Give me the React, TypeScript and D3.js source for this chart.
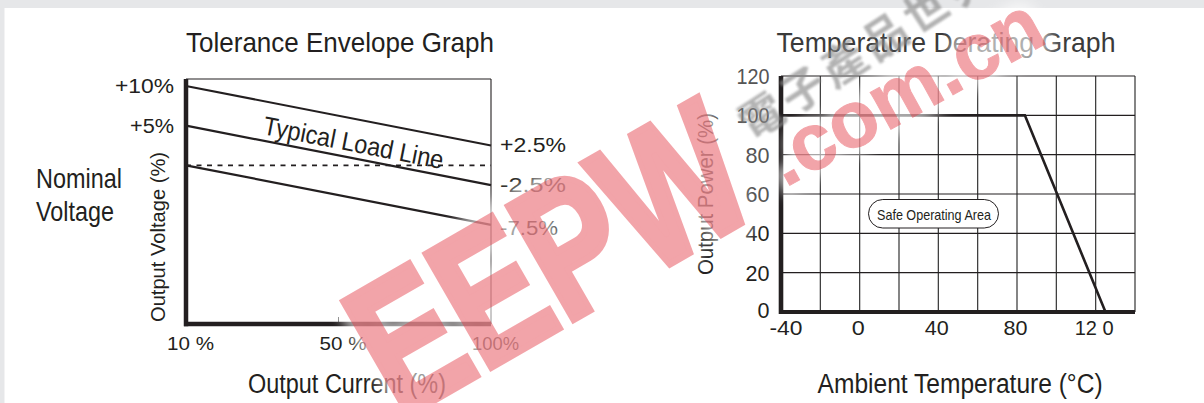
import React from "react";
import * as d3 from "d3";

// ---------- Data ----------
// Tolerance envelope (left chart)
const envCategories = ["10 %", "50 %", "100%"];
const envStartValues = [10, 5, 0]; // % at 10% load
const envEndValues = [2.5, -2.5, -7.5]; // % at 100% load
const envLeftLabels = ["+10%", "+5%"];
const envLeftLabelValues = [10, 5];
const envRightLabels = ["+2.5%", "-2.5%", "-7.5%"];
const nominalValue = 0;

// Temperature derating (right chart)
const tempTicks = [-40, 0, 40, 80, 120];
const tempTickLabels = ["-40", "0", "40", "80", "12 0"];
const tempGrid = [-40, -20, 0, 20, 40, 60, 80, 100, 120, 140];
const powerTicks = [0, 20, 40, 60, 80, 100, 120];
const deratingTemps = [-40, 84, 125];
const deratingPower = [100, 100, 0];

const INK = "#231f20";
const FONT = "'Liberation Sans', Arial, sans-serif";

type TP = {
  x: number;
  y: number;
  size: number;
  len?: number;
  anchor?: "start" | "middle" | "end";
  rotate?: number;
  fill?: string;
  children: React.ReactNode;
};
const Txt = ({ x, y, size, len, anchor = "start", rotate, fill = INK, children }: TP) => (
  <text
    x={rotate === undefined ? x : 0}
    y={rotate === undefined ? y : 0}
    transform={rotate === undefined ? undefined : `translate(${x},${y}) rotate(${rotate})`}
    fontSize={size}
    fontFamily={FONT}
    textAnchor={anchor}
    fill={fill}
    textLength={len}
    lengthAdjust={len ? "spacingAndGlyphs" : undefined}
  >
    {children}
  </text>
);

const WM_EEPW = "translate(400,420) rotate(-30)";
const WM_COM = "translate(785,188) rotate(-29)";
const WM_PINK = "rgb(228,55,66)";

export default function App() {
  // left chart scales
  const xL = d3.scalePoint<string>().domain(envCategories).range([186, 491]);
  const yL = d3.scaleLinear().domain([-20, 10.88]).range([324, 79]);
  const x0 = xL(envCategories[0])!;
  const x1 = xL(envCategories[envCategories.length - 1])!;

  // right chart scales
  const xR = d3.scaleLinear().domain([-40, 140]).range([781, 1135]);
  const yR = d3.scaleLinear().domain([0, 120]).range([312, 76]);
  const derating = d3
    .line<number>()
    .x((d) => xR(d))
    .y((_, i) => yR(deratingPower[i]))(deratingTemps);

  const rightLabelY = envEndValues.map((v) => yL(v));

  return (
    <div style={{ position: "fixed", left: 0, top: 0 }}>
      <svg width={1204} height={403} viewBox="0 0 1204 403">
        <defs>
          <filter id="blur" x="-20%" y="-20%" width="140%" height="140%">
            <feGaussianBlur stdDeviation="6" />
          </filter>
          <filter id="blur2" x="-20%" y="-20%" width="140%" height="140%">
            <feGaussianBlur stdDeviation="1.3" />
          </filter>
        </defs>
        <rect x={0} y={0} width={1204} height={403} fill="#e6e7e9" />
        <rect x={4.5} y={8} width={1200} height={395} fill="#ffffff" />

        {/* ---------- Left chart: Tolerance Envelope ---------- */}
        <Txt x={186} y={52} size={28} len={308}>Tolerance Envelope Graph</Txt>
        {/* frame */}
        <line x1={x0} x2={x1} y1={yL(10.88)} y2={yL(10.88)} stroke={INK} strokeWidth={1.1} />
        <line x1={x1} x2={x1} y1={yL(10.88)} y2={yL(-20)} stroke={INK} strokeWidth={1.1} />
        <line x1={xL("50 %")!} x2={xL("50 %")!} y1={yL(-20) - 7} y2={yL(-20)} stroke="#777" strokeWidth={1} />
        {/* nominal dashed */}
        <line
          x1={x0}
          x2={x1}
          y1={yL(nominalValue)}
          y2={yL(nominalValue)}
          stroke={INK}
          strokeWidth={1.8}
          strokeDasharray="5,5.5"
        />
        {/* envelope lines */}
        {envStartValues.map((s, i) => (
          <line
            key={i}
            x1={x0}
            x2={x1}
            y1={yL(s)}
            y2={yL(envEndValues[i])}
            stroke={INK}
            strokeWidth={2.2}
          />
        ))}
        {/* axes */}
        <line x1={x0} x2={x0} y1={yL(10.88)} y2={yL(-20) + 2.2} stroke={INK} strokeWidth={4.5} />
        <line x1={x0 - 2} x2={x1} y1={yL(-20)} y2={yL(-20)} stroke={INK} strokeWidth={4.5} />

        {envLeftLabels.map((l, i) => (
          <Txt key={l} x={174} y={yL(envLeftLabelValues[i]) + 7} size={20} len={i === 0 ? 59 : 44} anchor="end">
            {l}
          </Txt>
        ))}
        {envRightLabels.map((l, i) => (
          <Txt key={l} x={500} y={rightLabelY[i] + 7 + (i === 2 ? 3 : 0)} size={20} len={i === 2 ? 58 : 66}>
            {l}
          </Txt>
        ))}
        <Txt x={262} y={134} size={26} len={183} rotate={11.07}>Typical Load Line</Txt>
        <Txt x={36} y={188} size={28} len={86}>Nominal</Txt>
        <Txt x={36} y={221} size={28} len={78}>Voltage</Txt>
        <Txt x={165} y={237} size={21} len={170} anchor="middle" rotate={-90}>Output Voltage (%)</Txt>
        {envCategories.map((c) => (
          <Txt key={c} x={xL(c)! + 4.5} y={350} size={19} len={47} anchor="middle">
            {c}
          </Txt>
        ))}
        <Txt x={248} y={393} size={27} len={198}>Output Current (%)</Txt>

        {/* ---------- Right chart: Temperature Derating ---------- */}
        <Txt x={776.5} y={52} size={28} len={339} fill="#3a3a3a">Temperature Derating Graph</Txt>
        {tempGrid.slice(1).map((t) => (
          <line key={"v" + t} x1={xR(t)} x2={xR(t)} y1={yR(120)} y2={yR(0)} stroke="#333" strokeWidth={1.2} />
        ))}
        {powerTicks.slice(1).map((p) => (
          <line key={"h" + p} x1={xR(-40)} x2={xR(140)} y1={yR(p)} y2={yR(p)} stroke={INK} strokeWidth={1.2} />
        ))}
        <path d={derating || ""} fill="none" stroke={INK} strokeWidth={2.6} strokeLinejoin="miter" />
        <line x1={xR(-40)} x2={xR(-40)} y1={yR(120)} y2={yR(0) + 2} stroke={INK} strokeWidth={4.6} />
        <line x1={xR(-40) - 2} x2={xR(140)} y1={yR(0)} y2={yR(0)} stroke={INK} strokeWidth={4} />

        {powerTicks.map((p) => (
          <Txt key={"pl" + p} x={769.5} y={yR(p) + 8 - (p === 0 ? 2 : 0)} size={22} len={p >= 100 ? 33 : p === 0 ? 12 : 24} anchor="end" fill={p >= 60 ? "#555" : INK}>
            {String(p)}
          </Txt>
        ))}
        {tempTicks.map((t, i) => (
          <Txt key={"tl" + t} x={xR(t) + (i === 0 ? 5 : -1.5)} y={335} size={21} len={i === 0 ? 33 : i === 1 ? 13 : i === 4 ? 39 : 24} anchor="middle">
            {tempTickLabels[i]}
          </Txt>
        ))}
        <Txt x={817.6} y={393} size={27} len={285}>Ambient Temperature (°C)</Txt>
        <Txt x={713} y={194} size={22} len={162} anchor="middle" rotate={-90}>Output Power (%)</Txt>

        <rect x={868.5} y={199.5} width={130} height={28.5} rx={14.25} fill="#fff" stroke={INK} strokeWidth={1} />
        <Txt x={934} y={219.5} size={14.5} len={114} anchor="middle">Safe Operating Area</Txt>

        {/* ---------- Watermark ---------- */}
        <g filter="url(#blur)" opacity={0.6}>
          <text
            transform={WM_EEPW}
            fontSize={190}
            fontFamily={FONT}
            fontWeight={700}
            textLength={420}
            lengthAdjust="spacingAndGlyphs"
            fill="none"
            stroke="#fff"
            strokeWidth={26}
          >
            EEPW
          </text>
          <text
            transform={WM_COM}
            fontSize={80}
            fontFamily={FONT}
            fontWeight={700}
            fill="none"
            stroke="#fff"
            strokeWidth={18}
          >
            .com.cn
          </text>
        </g>
        <text
          transform="translate(752,142) rotate(-33)"
          fontSize={44}
          fontFamily="'Noto Sans CJK TC', sans-serif"
          fontWeight={700}
          fill="#8a8a8a"
          opacity={0.65}
          filter="url(#blur2)"
          letterSpacing={5}
        >
          電子產品世界
        </text>
        <g fill={WM_PINK} stroke={WM_PINK} opacity={0.45}>
          <text
            transform={WM_EEPW}
            fontSize={190}
            fontFamily={FONT}
            fontWeight={700}
            textLength={420}
            lengthAdjust="spacingAndGlyphs"
            strokeWidth={7}
            strokeLinejoin="miter"
          >
            EEPW
          </text>
          <text transform={WM_COM} fontSize={80} fontFamily={FONT} fontWeight={700} strokeWidth={1}>
            .com.cn
          </text>
        </g>
      </svg>
    </div>
  );
}
